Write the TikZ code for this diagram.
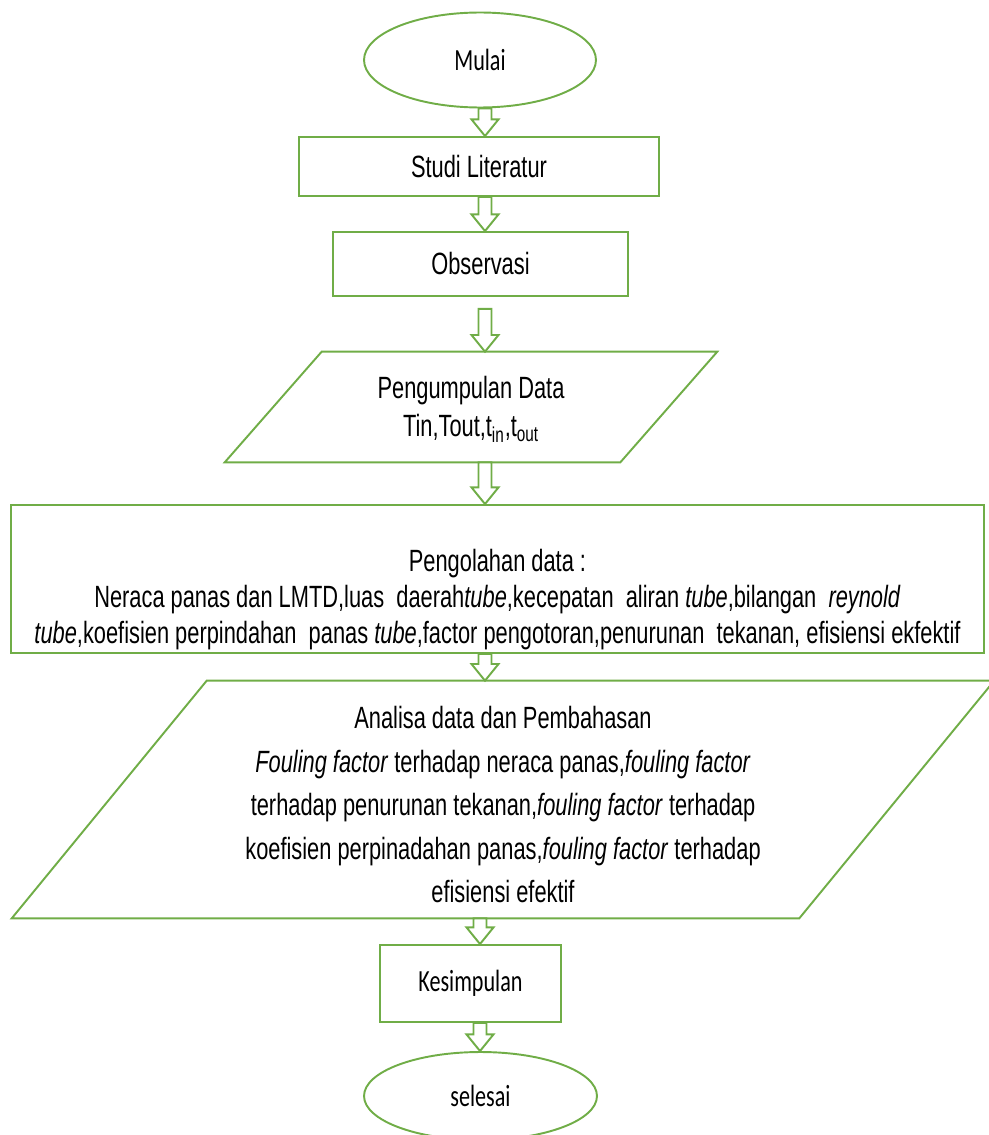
\documentclass[tikz,border=0pt]{standalone}
\usepackage{fontspec}
\setmainfont{Liberation Sans}[FakeStretch=0.71]
\newfontfamily\calibri{Carlito}[FakeStretch=0.72]
\usetikzlibrary{shapes.geometric,calc}
\definecolor{flowgreen}{RGB}{112,173,71}

\tikzset{
  startstop/.style={ellipse, draw=flowgreen, line width=1.1pt, inner sep=0pt,
    font=\calibri\fontsize{17.5}{20}\selectfont},
  process/.style={rectangle, draw=flowgreen, line width=1.1pt, inner sep=0pt,
    align=center, font=\fontsize{17.5}{20.4}\selectfont},
  io/.style={rectangle, inner sep=0pt, align=center, font=\fontsize{17.5}{22}\selectfont},
  iobox/.style={draw=flowgreen, line width=1.1pt, line join=miter},
  fatarrow/.style={draw=flowgreen, fill=white, line width=1.1pt, line join=miter,
    to path={let \p1=(\tikztostart), \p2=(\tikztotarget) in
      (\x1-3.7pt,\y1-#1) -- (\x1-3.7pt,\y2+9.5pt) -- (\x1-7.7pt,\y2+9.5pt)
      -- (\x1,\y2) -- (\x1+7.7pt,\y2+9.5pt) -- (\x1+3.7pt,\y2+9.5pt)
      -- (\x1+3.7pt,\y1-#1) -- cycle}},
  fatarrow/.default=0pt
}

\begin{document}
\begin{tikzpicture}[x=0.02cm, y=-0.02cm]
  \useasboundingbox (0,0) rectangle (989,1135);
  \coordinate (ax) at (485,0);
  \coordinate (bx) at (480,0);

  % flow boxes
  \node (mulai) [startstop, minimum width=4.64cm, minimum height=1.9cm] at (480,60) {Mulai};
  \node (studi) [process, minimum width=7.2cm, minimum height=1.18cm] at (479,166.5) {Studi Literatur};
  \node (obs) [process, minimum width=5.9cm, minimum height=1.28cm] at (480.5,264) {Observasi};
  \node (kumpul) [io, minimum width=9.84cm, minimum height=2.2cm] at (471,407)
    {\rule{0pt}{15pt}Pengumpulan Data\\Tin,Tout,t\textsubscript{in},t\textsubscript{out}};
  \node (olah) [process, minimum width=19.46cm, minimum height=2.96cm] at (497.5,579)
    {\rule{0pt}{36pt}Pengolahan data :\\
     Neraca panas dan LMTD,luas\ \ daerah\textit{tube},kecepatan\ \ aliran \textit{tube},bilangan\ \ \textit{reynold}\\
     \textit{tube},koefisien perpindahan\ \ panas \textit{tube},factor pengotoran,penurunan\ \ tekanan, efisiensi ekfektif};
  \node (analisa) [io, minimum width=19.64cm, minimum height=4.74cm,
    font=\fontsize{17.5}{24.7}\selectfont] at (503,799.5)
    {\rule{0pt}{18.5pt}Analisa data dan Pembahasan\\
     \textit{Fouling factor} terhadap neraca panas,\textit{fouling factor}\\
     terhadap penurunan tekanan,\textit{fouling factor} terhadap\\
     koefisien perpinadahan panas,\textit{fouling factor} terhadap\\
     efisiensi efektif};
  \node (kesim) [process, minimum width=3.62cm, minimum height=1.54cm,
    font=\calibri\fontsize{17.5}{20}\selectfont] at (470.5,983.5) {Kesimpulan};
  \node (selesai) [startstop, minimum width=4.66cm, minimum height=1.76cm] at (480.5,1096) {selesai};

  % parallelograms round the data nodes
  \draw[iobox] ([xshift=1.94cm]kumpul.north west) -- (kumpul.north east)
    -- ([xshift=-1.94cm]kumpul.south east) -- (kumpul.south west) -- cycle;
  \draw[iobox] ([xshift=3.9cm]analisa.north west) -- (analisa.north east)
    -- ([xshift=-3.9cm]analisa.south east) -- (analisa.south west) -- cycle;

  % block arrows
  \draw[fatarrow] (mulai.south -| ax) to (studi.north -| ax);
  \draw[fatarrow] (studi.south -| ax) to (obs.north -| ax);
  \draw[fatarrow=0.24cm] (obs.south -| ax) to (kumpul.north -| ax);
  \draw[fatarrow] (kumpul.south -| ax) to (olah.north -| ax);
  \draw[fatarrow] (olah.south -| ax) to (analisa.north -| ax);
  \draw[fatarrow] (analisa.south -| bx) to (kesim.north -| bx);
  \draw[fatarrow] (kesim.south -| bx) to (selesai.north -| bx);
\end{tikzpicture}
\end{document}
